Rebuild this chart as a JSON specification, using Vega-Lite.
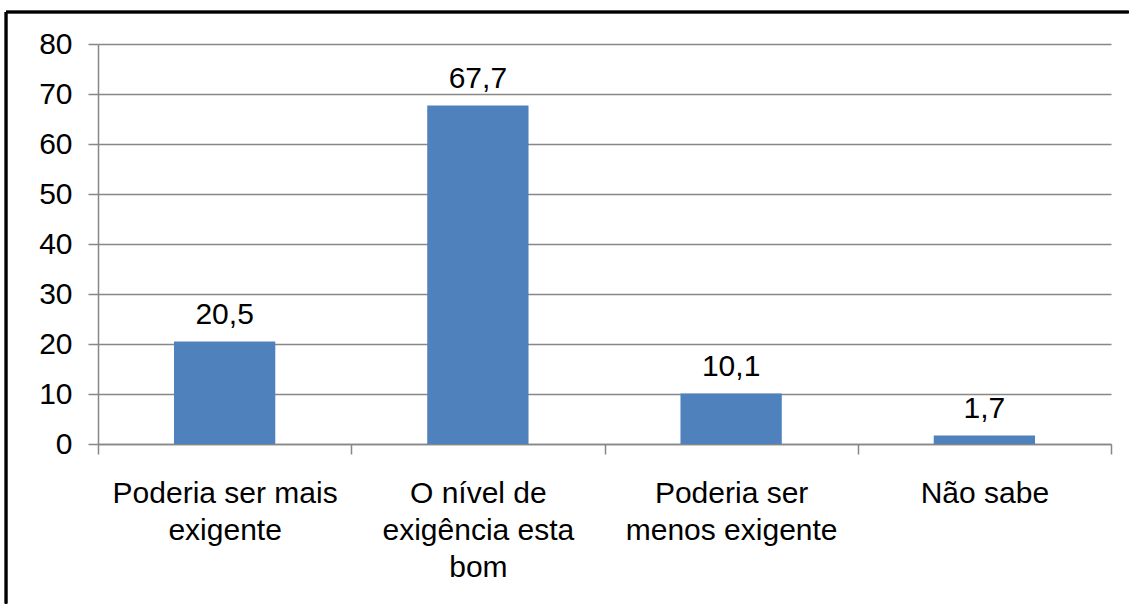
{
  "$schema": "https://vega.github.io/schema/vega-lite/v6.json",
  "autosize": "none",
  "width": 1013,
  "height": 400,
  "padding": {"left": 98, "top": 44, "right": 18, "bottom": 161},
  "background": "#ffffff",
  "config": {
    "view": {"stroke": null},
    "font": "Liberation Sans",
    "locale": {"number": {"decimal": ",", "thousands": ".", "grouping": [3], "currency": ["", ""]}}
  },
  "data": {
    "values": [
      {"categoria": "Poderia ser mais exigente", "valor": 20.5},
      {"categoria": "O nível de exigência esta bom", "valor": 67.7},
      {"categoria": "Poderia ser menos exigente", "valor": 10.1},
      {"categoria": "Não sabe", "valor": 1.7}
    ]
  },
  "resolve": {"scale": {"x": "independent"}, "axis": {"x": "independent", "y": "independent"}},
  "layer": [
    {
      "encoding": {
        "x": {
          "field": "categoria",
          "type": "nominal",
          "sort": null,
          "scale": {"paddingInner": 0, "paddingOuter": 0},
          "axis": {
            "title": null,
            "labelAngle": 0,
            "labelFontSize": 30,
            "labelColor": "#000000",
            "labelFont": "Liberation Sans",
            "labelLineHeight": 37,
            "labelPadding": 24,
            "labelBaseline": "top",
            "labelLimit": 400,
            "labelExpr": "datum.value == 'Poderia ser mais exigente' ? ['Poderia ser mais', 'exigente'] : datum.value == 'O nível de exigência esta bom' ? ['O nível de', 'exigência esta', 'bom'] : datum.value == 'Poderia ser menos exigente' ? ['Poderia ser', 'menos exigente'] : datum.value",
            "tickBand": "extent",
            "tickSize": 10,
            "tickColor": "#878787",
            "tickWidth": 1.5,
            "domainColor": "#878787",
            "domainWidth": 1.5,
            "grid": false
          }
        },
        "y": {
          "field": "valor",
          "type": "quantitative",
          "scale": {"domain": [0, 80], "nice": false},
          "axis": {
            "title": null,
            "values": [0, 10, 20, 30, 40, 50, 60, 70, 80],
            "labelFontSize": 30,
            "labelColor": "#000000",
            "labelFont": "Liberation Sans",
            "labelPadding": 16,
            "tickSize": 10,
            "tickColor": "#878787",
            "tickWidth": 1.5,
            "domainColor": "#878787",
            "domainWidth": 1.5,
            "grid": true,
            "gridColor": "#878787",
            "gridWidth": 1.5
          }
        }
      },
      "layer": [
        {"mark": {"type": "bar", "color": "#4F81BD", "width": {"band": 0.4}}},
        {
          "mark": {"type": "text", "fontSize": 30, "font": "Liberation Sans", "color": "#000000", "baseline": "alphabetic", "dy": -18},
          "encoding": {"text": {"field": "valor", "type": "quantitative", "format": ".1f"}}
        }
      ]
    },
    {
      "mark": {"type": "rule", "color": "#000000", "strokeWidth": 2.5, "clip": false},
      "encoding": {
        "x": {"datum": -0.0908, "type": "quantitative", "scale": {"domain": [0, 1], "nice": false, "zero": false}, "axis": null},
        "x2": {"datum": 1.0175},
        "y": {"datum": 86.4, "type": "quantitative", "axis": null}
      }
    },
    {
      "mark": {"type": "rule", "color": "#000000", "strokeWidth": 2.5, "clip": false},
      "encoding": {
        "x": {"datum": -0.0908, "type": "quantitative", "scale": {"domain": [0, 1], "nice": false, "zero": false}, "axis": null},
        "y": {"datum": 86.4, "type": "quantitative", "axis": null},
        "y2": {"datum": -31.9}
      }
    }
  ]
}
